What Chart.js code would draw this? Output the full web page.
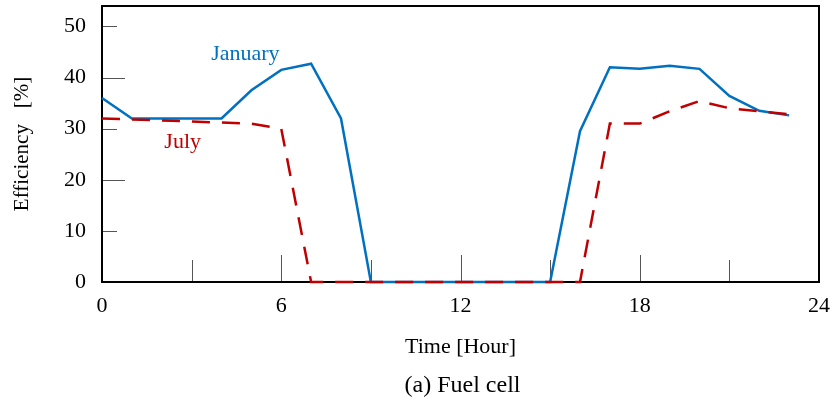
<!DOCTYPE html>
<html>
<head>
<meta charset="utf-8">
<script src="https://cdn.jsdelivr.net/npm/chart.js@4"></script>
<style>
  body { margin: 0; background: #fff; }
  #fuelChart { display: block; }
</style>
</head>
<body>
<canvas id="fuelChart" width="837" height="407"></canvas>
<script>
// Hours of the day
const hours = [0, 1, 2, 3, 4, 5, 6, 7, 8, 9, 10, 11, 12, 13, 14, 15, 16, 17, 18, 19, 20, 21, 22, 23];
// Fuel cell efficiency [%]
const januaryEff = [36, 32, 32, 32, 32, 37.5, 41.5, 42.7, 32, 0, 0, 0, 0, 0, 0, 0, 29.5, 42, 41.7, 42.3, 41.7, 36.4, 33.5, 32.6];
const julyEff = [32, 31.8, 31.6, 31.4, 31.2, 31, 30, 0, 0, 0, 0, 0, 0, 0, 0, 0, 0, 31, 31, 33.4, 35.4, 34, 33.4, 32.8];
const xTicks = [0, 6, 12, 18, 24];
const yTicks = [0, 10, 20, 30, 40, 50];
const xInnerTicks = [3, 6, 9, 12, 15, 18, 21];
const yInnerTicks = [10, 20, 30, 40, 50];

const serif = "'Liberation Serif', 'Times New Roman', serif";

// box, inner tick marks, series labels and caption
const framePlugin = {
    id: "frame",
    beforeDatasetsDraw(chart) {
        const { ctx, chartArea: a, scales: { x, y } } = chart;
        ctx.save();
        ctx.strokeStyle = "#555";
        ctx.lineWidth = 1;
        xInnerTicks.forEach(v => {
            const px = Math.round(x.getPixelForValue(v)) + 0.5;
            const len = v % 6 === 0 ? 27 : 22;
            ctx.beginPath();
            ctx.moveTo(px, a.bottom);
            ctx.lineTo(px, a.bottom - len);
            ctx.stroke();
        });
        yInnerTicks.forEach(v => {
            const py = Math.round(y.getPixelForValue(v)) + 0.5;
            const len = v % 20 === 0 ? 23 : 15;
            ctx.beginPath();
            ctx.moveTo(a.left, py);
            ctx.lineTo(a.left + len, py);
            ctx.stroke();
        });
        ctx.strokeStyle = "#000";
        ctx.lineWidth = 2;
        ctx.strokeRect(a.left, a.top, a.right - a.left, a.bottom - a.top);

        ctx.font = "22px " + serif;
        ctx.textAlign = "center";
        ctx.textBaseline = "middle";
        ctx.fillStyle = "#0070C0";
        ctx.fillText("January", x.getPixelForValue(4.8), y.getPixelForValue(44.6));
        ctx.fillStyle = "#C00000";
        ctx.fillText("July", x.getPixelForValue(2.7), y.getPixelForValue(27.4));

        ctx.font = "24px " + serif;
        ctx.fillStyle = "#000";
        ctx.fillText("(a) Fuel cell", (a.left + a.right) / 2 + 2, 386);
        ctx.restore();
    }
};

function noEdgePadding(s) {
    s.paddingTop = 0;
    s.paddingBottom = 0;
    s.paddingLeft = 0;
    s.paddingRight = 0;
}

const ctx = document.getElementById("fuelChart");
new Chart(ctx.getContext("2d"), {
    type: "line",
    data: {
        datasets: [{
            label: "July",
            data: hours.map((h, i) => ({ x: h, y: julyEff[i] })),
            borderColor: "#C00000",
            borderWidth: 2.5,
            borderDash: [18, 12],
            pointRadius: 0,
            fill: false,
            tension: 0,
            clip: 4
        }, {
            label: "January",
            data: hours.map((h, i) => ({ x: h, y: januaryEff[i] })),
            borderColor: "#0070C0",
            borderWidth: 2.5,
            pointRadius: 0,
            fill: false,
            tension: 0,
            clip: 4
        }]
    },
    options: {
        responsive: false,
        animation: false,
        layout: { padding: { top: 6, right: 18, left: 0, bottom: 34 } },
        plugins: {
            legend: { display: false },
            tooltip: { enabled: false }
        },
        scales: {
            x: {
                type: "linear",
                min: 0,
                max: 24,
                afterBuildTicks: s => { s.ticks = xTicks.map(v => ({ value: v })); },
                afterFit: s => { s.height = 91; noEdgePadding(s); },
                grid: { display: false, drawTicks: false },
                border: { display: false },
                ticks: { color: "#000", padding: 11, font: { family: serif, size: 22 }, maxRotation: 0 },
                title: {
                    display: true,
                    text: "Time [Hour]",
                    color: "#000",
                    font: { family: serif, size: 22, lineHeight: 1.2 },
                    padding: { top: 0, bottom: 13 }
                }
            },
            y: {
                min: 0,
                max: 54,
                afterBuildTicks: s => { s.ticks = yTicks.map(v => ({ value: v })); },
                afterFit: s => { s.width = 102; noEdgePadding(s); },
                grid: { display: false, drawTicks: false },
                border: { display: false },
                ticks: { color: "#000", padding: 16, font: { family: serif, size: 22 } },
                title: {
                    display: true,
                    text: "Efficiency   [%]",
                    color: "#000",
                    font: { family: serif, size: 21, lineHeight: 1.2 },
                    padding: { top: 10, bottom: 0 }
                }
            }
        }
    },
    plugins: [framePlugin]
});
</script>
</body>
</html>
